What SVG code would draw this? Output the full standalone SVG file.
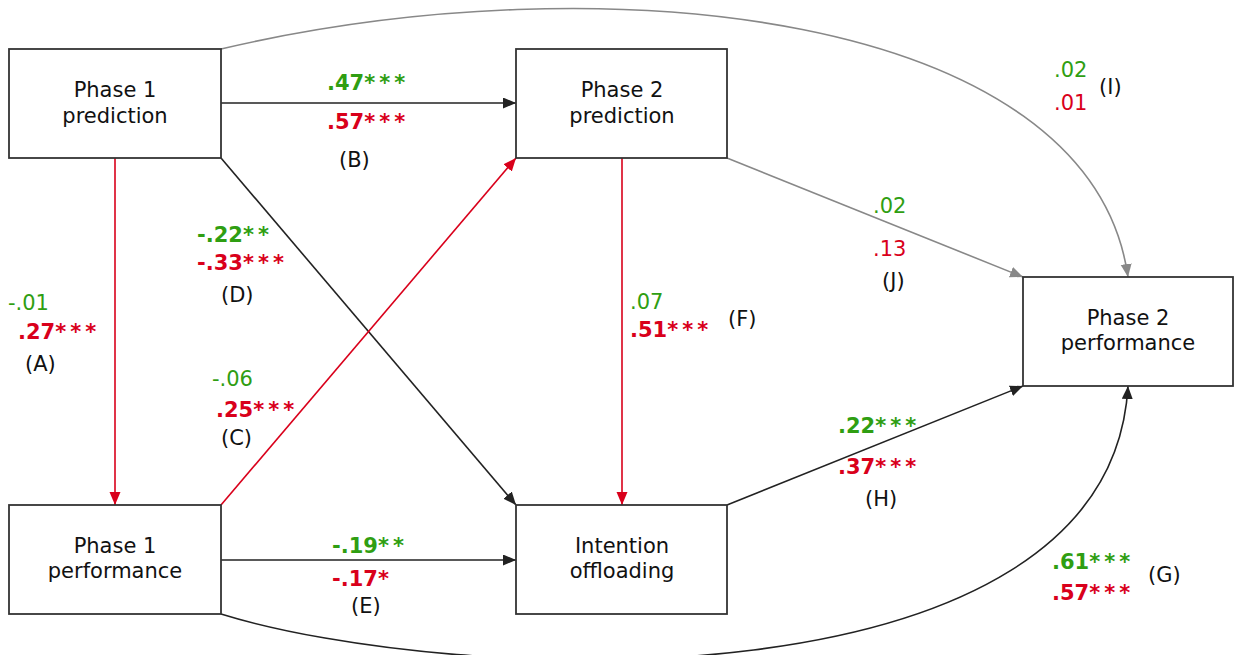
<svg xmlns="http://www.w3.org/2000/svg" width="1234" height="655" viewBox="0 0 1234 655">
<defs>
<style>
.box{fill:#fff;stroke:#333;stroke-width:1.8}
.nl{font-family:"DejaVu Sans","Liberation Sans",sans-serif;font-size:21px;fill:#111;text-anchor:middle}
.lbl{font-family:"DejaVu Sans","Liberation Sans",sans-serif;font-size:21px;fill:#111}
.g{font-family:"DejaVu Sans","Liberation Sans",sans-serif;font-size:21px;fill:#2f9e12}
.r{font-family:"DejaVu Sans","Liberation Sans",sans-serif;font-size:21px;fill:#d9001b}
.b{font-weight:bold}
.st{letter-spacing:4px}
.k{fill:none;stroke:#222;stroke-width:1.6}
.red{fill:none;stroke:#d9001b;stroke-width:1.6}
.gr{fill:none;stroke:#888;stroke-width:1.6}
</style>
<marker id="ak" markerUnits="userSpaceOnUse" markerWidth="14" markerHeight="12" refX="13" refY="5.5" orient="auto"><path d="M0,0 L13,5.5 L0,11 z" fill="#222"/></marker>
<marker id="ar" markerUnits="userSpaceOnUse" markerWidth="14" markerHeight="12" refX="13" refY="5.5" orient="auto"><path d="M0,0 L13,5.5 L0,11 z" fill="#d9001b"/></marker>
<marker id="ag" markerUnits="userSpaceOnUse" markerWidth="14" markerHeight="12" refX="13" refY="5.5" orient="auto"><path d="M0,0 L13,5.5 L0,11 z" fill="#888"/></marker>
</defs>
<rect width="1234" height="655" fill="#fff"/>
<g id="connectors">
<path class="gr" d="M221,49 C600,-40 1090,10 1128,277" marker-end="url(#ag)"/>
<path class="k" d="M221,614 C450,685 1110,715 1128,386" marker-end="url(#ak)"/>
<line class="k" x1="221" y1="103" x2="516" y2="103" marker-end="url(#ak)"/>
<line class="red" x1="115" y1="158" x2="115" y2="505" marker-end="url(#ar)"/>
<line class="k" x1="221" y1="158" x2="516" y2="505" marker-end="url(#ak)"/>
<line class="red" x1="221" y1="505" x2="516" y2="158" marker-end="url(#ar)"/>
<line class="red" x1="622" y1="158" x2="622" y2="505" marker-end="url(#ar)"/>
<line class="k" x1="221" y1="560" x2="516" y2="560" marker-end="url(#ak)"/>
<line class="gr" x1="727" y1="158" x2="1023" y2="277" marker-end="url(#ag)"/>
<line class="k" x1="727" y1="505" x2="1023" y2="386" marker-end="url(#ak)"/>
</g>
<g id="p1pred"><rect class="box" x="9" y="49" width="212" height="109"/><text class="nl" x="115" y="97">Phase 1</text><text class="nl" x="115" y="123">prediction</text></g>
<g id="p2pred"><rect class="box" x="516" y="49" width="211" height="109"/><text class="nl" x="622" y="97">Phase 2</text><text class="nl" x="622" y="123">prediction</text></g>
<g id="p1perf"><rect class="box" x="9" y="505" width="212" height="109"/><text class="nl" x="115" y="553">Phase 1</text><text class="nl" x="115" y="578">performance</text></g>
<g id="offload"><rect class="box" x="516" y="505" width="211" height="109"/><text class="nl" x="622" y="553">Intention</text><text class="nl" x="622" y="578">offloading</text></g>
<g id="p2perf"><rect class="box" x="1023" y="277" width="210" height="109"/><text class="nl" x="1128" y="325">Phase 2</text><text class="nl" x="1128" y="350">performance</text></g>
<g id="labels">
<text class="g b" x="327" y="90">.47<tspan class="st">***</tspan></text>
<text class="r b" x="327" y="129">.57<tspan class="st">***</tspan></text>
<text class="lbl" x="339" y="167">(B)</text>
<text class="g" x="8" y="310">-.01</text>
<text class="r b" x="18" y="339">.27<tspan class="st">***</tspan></text>
<text class="lbl" x="25" y="371">(A)</text>
<text class="g b" x="197" y="242">-.22<tspan class="st">**</tspan></text>
<text class="r b" x="197" y="270">-.33<tspan class="st">***</tspan></text>
<text class="lbl" x="221" y="302">(D)</text>
<text class="g" x="212" y="386">-.06</text>
<text class="r b" x="216" y="417">.25<tspan class="st">***</tspan></text>
<text class="lbl" x="221" y="445">(C)</text>
<text class="g" x="630" y="309">.07</text>
<text class="r b" x="630" y="337">.51<tspan class="st">***</tspan></text>
<text class="lbl" x="728" y="326">(F)</text>
<text class="g" x="873" y="213">.02</text>
<text class="r" x="873" y="256">.13</text>
<text class="lbl" x="882" y="288">(J)</text>
<text class="g" x="1054" y="77">.02</text>
<text class="r" x="1054" y="110">.01</text>
<text class="lbl" x="1099" y="94">(I)</text>
<text class="g b" x="332" y="553">-.19<tspan class="st">**</tspan></text>
<text class="r b" x="332" y="586">-.17<tspan class="st">*</tspan></text>
<text class="lbl" x="351" y="613">(E)</text>
<text class="g b" x="838" y="433">.22<tspan class="st">***</tspan></text>
<text class="r b" x="838" y="474">.37<tspan class="st">***</tspan></text>
<text class="lbl" x="865" y="506">(H)</text>
<text class="g b" x="1052" y="569">.61<tspan class="st">***</tspan></text>
<text class="r b" x="1052" y="600">.57<tspan class="st">***</tspan></text>
<text class="lbl" x="1148" y="582">(G)</text>
</g>
</svg>
